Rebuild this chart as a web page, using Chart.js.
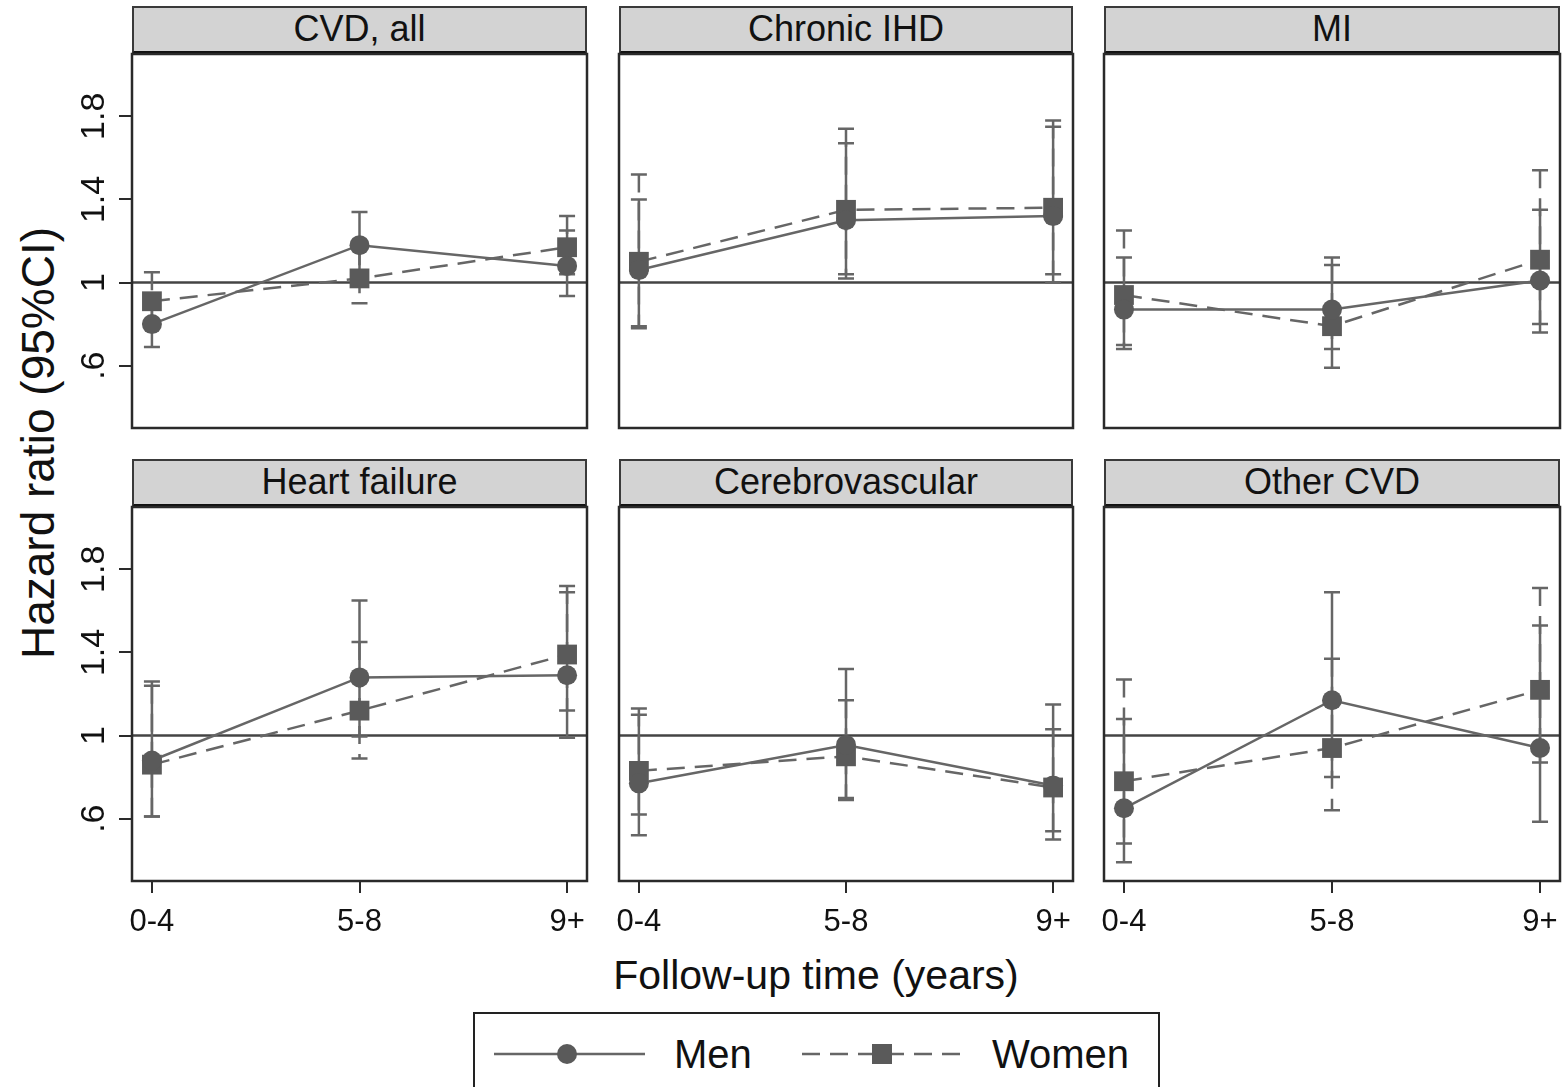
<!DOCTYPE html>
<html>
<head>
<meta charset="utf-8">
<script src="https://cdn.jsdelivr.net/npm/chart.js@4.4.1/dist/chart.umd.min.js"></script>
<style>
  body { margin: 0; background: #fff; font-family: 'Liberation Sans', Arial, sans-serif; color: #111; }
  #fig { position: relative; width: 1562px; height: 1087px; overflow: hidden; background: #fff; }
  .strip { position: absolute; box-sizing: border-box; background: #d3d3d3; border: 2px solid #3a3a3a;
           border-bottom: 4px solid #111; text-align: center; font-size: 36px; line-height: 42px; }
  canvas { position: absolute; }
  .title { position: absolute; white-space: nowrap; }
  #legend { position: absolute; left: 473px; top: 1012px; width: 687px; height: 100px;
            box-sizing: border-box; border: 2px solid #222; }
  #legend span { position: absolute; top: 20px; font-size: 40px; line-height: 40px; }
</style>
</head>
<body>
<div id="fig">
  <div class="title" style="left:38px;top:443px;font-size:46px;transform:translate(-50%,-50%) rotate(-90deg);">Hazard ratio (95%CI)</div>
  <div class="title" style="left:816px;top:975px;font-size:41px;transform:translate(-50%,-50%);">Follow-up time (years)</div>
  <div id="legend">
    <svg width="687" height="80" style="position:absolute;left:0;top:0">
      <line x1="19" y1="40" x2="170" y2="40" stroke="#666" stroke-width="2.5"/>
      <circle cx="92" cy="40" r="10" fill="#5a5a5a"/>
      <line x1="327" y1="40" x2="487" y2="40" stroke="#666" stroke-width="2.5" stroke-dasharray="18 10"/>
      <rect x="397" y="30" width="20" height="20" fill="#5a5a5a"/>
    </svg>
    <span style="left:199px">Men</span>
    <span style="left:517px">Women</span>
  </div>
</div>
<script>
const panelTitles = ['CVD, all', 'Chronic IHD', 'MI', 'Heart failure', 'Cerebrovascular', 'Other CVD'];
const periods = ['0-4', '5-8', '9+'];
const yTickValues = [0.6, 1, 1.4, 1.8];
const yTickLabels = ['.6', '1', '1.4', '1.8'];

// hazard ratios and 95% CI per panel, one entry per follow-up period
const menHR  = [[0.80, 1.18, 1.08], [1.06, 1.30, 1.32], [0.87, 0.87, 1.01],
                [0.88, 1.28, 1.29], [0.77, 0.955, 0.76], [0.65, 1.17, 0.94]];
const menLo  = [[0.69, 1.04, 0.935], [0.78, 1.02, 1.00], [0.68, 0.68, 0.76],
                [0.61, 0.995, 0.99], [0.52, 0.69, 0.50], [0.39, 0.80, 0.585]];
const menHi  = [[0.93, 1.34, 1.25], [1.40, 1.67, 1.75], [1.12, 1.12, 1.35],
                [1.26, 1.65, 1.69], [1.10, 1.32, 1.15], [1.08, 1.69, 1.53]];
const womenHR = [[0.91, 1.02, 1.17], [1.10, 1.35, 1.36], [0.94, 0.79, 1.11],
                 [0.86, 1.12, 1.39], [0.83, 0.90, 0.75], [0.78, 0.94, 1.22]];
const womenLo = [[0.79, 0.90, 1.04], [0.79, 1.04, 1.04], [0.70, 0.59, 0.80],
                 [0.61, 0.89, 1.12], [0.62, 0.70, 0.54], [0.48, 0.64, 0.87]];
const womenHi = [[1.05, 1.17, 1.32], [1.52, 1.74, 1.78], [1.25, 1.085, 1.54],
                 [1.24, 1.45, 1.72], [1.13, 1.17, 1.03], [1.27, 1.37, 1.71]];

const colLeft = [132, 619, 1104];
const colWidth = [455, 454, 456];
const rowTop = [54, 507];
const stripTop = [6, 459];
const plotHeight = 374;
const pad = 3;
const fontFamily = "'Liberation Sans', Arial, sans-serif";
const markColor = '#5a5a5a';
const lineColor = '#666';

const panelDeco = {
  id: 'panelDeco',
  beforeDatasetsDraw(chart) {
    const { ctx, chartArea: a, scales: { x, y } } = chart;
    ctx.save();
    const y1 = y.getPixelForValue(1);
    ctx.strokeStyle = '#444';
    ctx.lineWidth = 2.5;
    ctx.beginPath(); ctx.moveTo(a.left, y1); ctx.lineTo(a.right, y1); ctx.stroke();

    chart.data.datasets.forEach(ds => {
      ctx.strokeStyle = ds.borderColor;
      ctx.lineWidth = 2.5;
      ds.data.forEach((pt, i) => {
        const px = x.getPixelForValue(pt.x);
        const top = y.getPixelForValue(ds.hi[i]);
        const bot = y.getPixelForValue(ds.lo[i]);
        ctx.setLineDash(ds.borderDash || []);
        ctx.beginPath(); ctx.moveTo(px, top); ctx.lineTo(px, bot); ctx.stroke();
        ctx.setLineDash([]);
        ctx.beginPath();
        ctx.moveTo(px - 8, top); ctx.lineTo(px + 8, top);
        ctx.moveTo(px - 8, bot); ctx.lineTo(px + 8, bot);
        ctx.stroke();
      });
    });
    ctx.restore();
  },
  afterDraw(chart) {
    const { ctx, chartArea: a } = chart;
    ctx.save();
    ctx.strokeStyle = '#2a2a2a';
    ctx.lineWidth = 2.5;
    ctx.strokeRect(a.left, a.top, a.right - a.left, a.bottom - a.top);
    ctx.restore();
  }
};

const fig = document.getElementById('fig');

panelTitles.forEach((title, k) => {
  const row = Math.floor(k / 3), col = k % 3;
  const L = col === 0 ? colLeft[0] - pad : 0;
  const B = row === 1 ? 80 : 0;

  const strip = document.createElement('div');
  strip.className = 'strip';
  strip.style.left = colLeft[col] + 'px';
  strip.style.top = stripTop[row] + 'px';
  strip.style.width = colWidth[col] + 'px';
  strip.style.height = (rowTop[row] - stripTop[row] + 1) + 'px';
  strip.textContent = title;
  fig.appendChild(strip);

  const canvas = document.createElement('canvas');
  const w = colWidth[col] + L + 2 * pad;
  const h = plotHeight + B + 2 * pad;
  canvas.width = w; canvas.height = h;
  canvas.style.width = w + 'px'; canvas.style.height = h + 'px';
  canvas.style.left = (colLeft[col] - L - pad) + 'px';
  canvas.style.top = (rowTop[row] - pad) + 'px';
  fig.appendChild(canvas);

  new Chart(canvas.getContext('2d'), {
    type: 'line',
    data: {
      datasets: [{
        label: 'Men',
        data: periods.map((p, i) => ({ x: i, y: menHR[k][i] })),
        lo: menLo[k], hi: menHi[k],
        borderColor: lineColor, borderWidth: 2.5,
        pointStyle: 'circle', pointRadius: 10, pointBorderWidth: 0,
        pointBackgroundColor: markColor, tension: 0
      }, {
        label: 'Women',
        data: periods.map((p, i) => ({ x: i, y: womenHR[k][i] })),
        lo: womenLo[k], hi: womenHi[k],
        borderColor: lineColor, borderWidth: 2.5, borderDash: [18, 10],
        pointStyle: 'rect', pointRadius: 14, pointBorderWidth: 0,
        pointBackgroundColor: markColor, tension: 0
      }]
    },
    options: {
      responsive: false, animation: false, devicePixelRatio: 1,
      layout: { padding: pad, autoPadding: false },
      events: [],
      plugins: { legend: { display: false }, tooltip: { enabled: false } },
      scales: {
        x: {
          type: 'linear', min: -0.096, max: 2.096, display: row === 1,
          afterBuildTicks: s => { s.ticks = periods.map((p, i) => ({ value: i })); },
          afterFit: s => { s.height = B; s.paddingLeft = 0; s.paddingRight = 0; },
          grid: { drawOnChartArea: false, tickLength: 12, color: '#2a2a2a', lineWidth: 2 },
          border: { display: false },
          ticks: { callback: v => periods[v], autoSkip: false, maxRotation: 0,
                   font: { size: 31, family: fontFamily }, color: '#111', padding: 11 }
        },
        y: {
          min: 0.3, max: 2.1, display: col === 0,
          afterBuildTicks: s => { s.ticks = yTickValues.map(v => ({ value: v })); },
          afterFit: s => { s.width = L; s.paddingTop = 0; s.paddingBottom = 0; },
          grid: { drawOnChartArea: false, tickLength: 13, color: '#2a2a2a', lineWidth: 2 },
          border: { display: false },
          ticks: { callback: v => yTickLabels[yTickValues.indexOf(v)], autoSkip: false,
                   minRotation: 90, maxRotation: 90, crossAlign: 'center',
                   font: { size: 34, family: fontFamily }, color: '#111', padding: 1 }
        }
      }
    },
    plugins: [panelDeco]
  });
});
</script>
</body>
</html>
